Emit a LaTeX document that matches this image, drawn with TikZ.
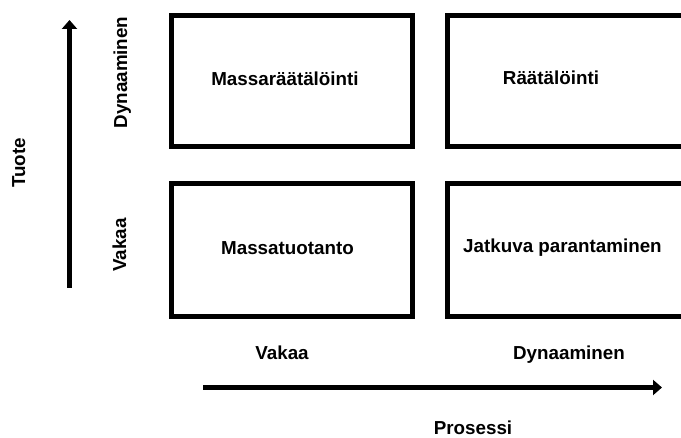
\documentclass[tikz,border=0pt]{standalone}
\usepackage{fontspec}
\setmainfont{Liberation Sans}
\usetikzlibrary{arrows.meta}
\begin{document}
\begin{tikzpicture}[x=1pt,y=-1pt,
  quad/.style={draw=black,line width=5pt,rectangle,inner sep=0pt,anchor=north west},
  lbl/.style={font=\fontsize{18.8}{22}\selectfont\bfseries,inner sep=0pt,anchor=base},
  axisarrow/.style={line width=4.5pt,-{Triangle[width=15pt,length=9pt]}}]
\clip (0,0) rectangle (681,438);
\fill[white] (0,0) rectangle (681,438);

% quadrant frames (the right-hand column runs off the right edge)
\node[quad,minimum width=241pt,minimum height=131pt] (tl) at (168.5,13.5) {};
\node[quad,minimum width=255pt,minimum height=131pt] (tr) at (445,13.5) {};
\node[quad,minimum width=241pt,minimum height=133pt] (bl) at (168.5,181.5) {};
\node[quad,minimum width=255pt,minimum height=133pt] (br) at (445,181.5) {};

% quadrant names
\node[lbl] (mr) at (285,86) {Massaräätälöinti};
\node[lbl] (rt) at (551,85) {Räätälöinti};
\node[lbl] (mt) at (287.5,255) {Massatuotanto};
\node[lbl] (jp) at (562.5,253) {Jatkuva parantaminen};

% product axis
\coordinate (ybot) at (69.5,288);
\coordinate (ytop) at (69.5,20);
\draw[axisarrow] (ybot) -- (ytop);
\node[lbl,rotate=90] (tuote) at (25,163) {Tuote};
\node[lbl,rotate=90] (ydyn) at (127,72.5) {Dynaaminen};
\node[lbl,rotate=90] (yvak) at (126,245) {Vakaa};

% process axis
\coordinate (xleft) at (203,387.5);
\coordinate (xright) at (662,387.5);
\draw[axisarrow] (xleft) -- (xright);
\node[lbl] (xvak) at (282,360) {Vakaa};
\node[lbl] (xdyn) at (569,360) {Dynaaminen};
\node[lbl] (proc) at (473,434.5) {Prosessi};
\end{tikzpicture}
\end{document}
